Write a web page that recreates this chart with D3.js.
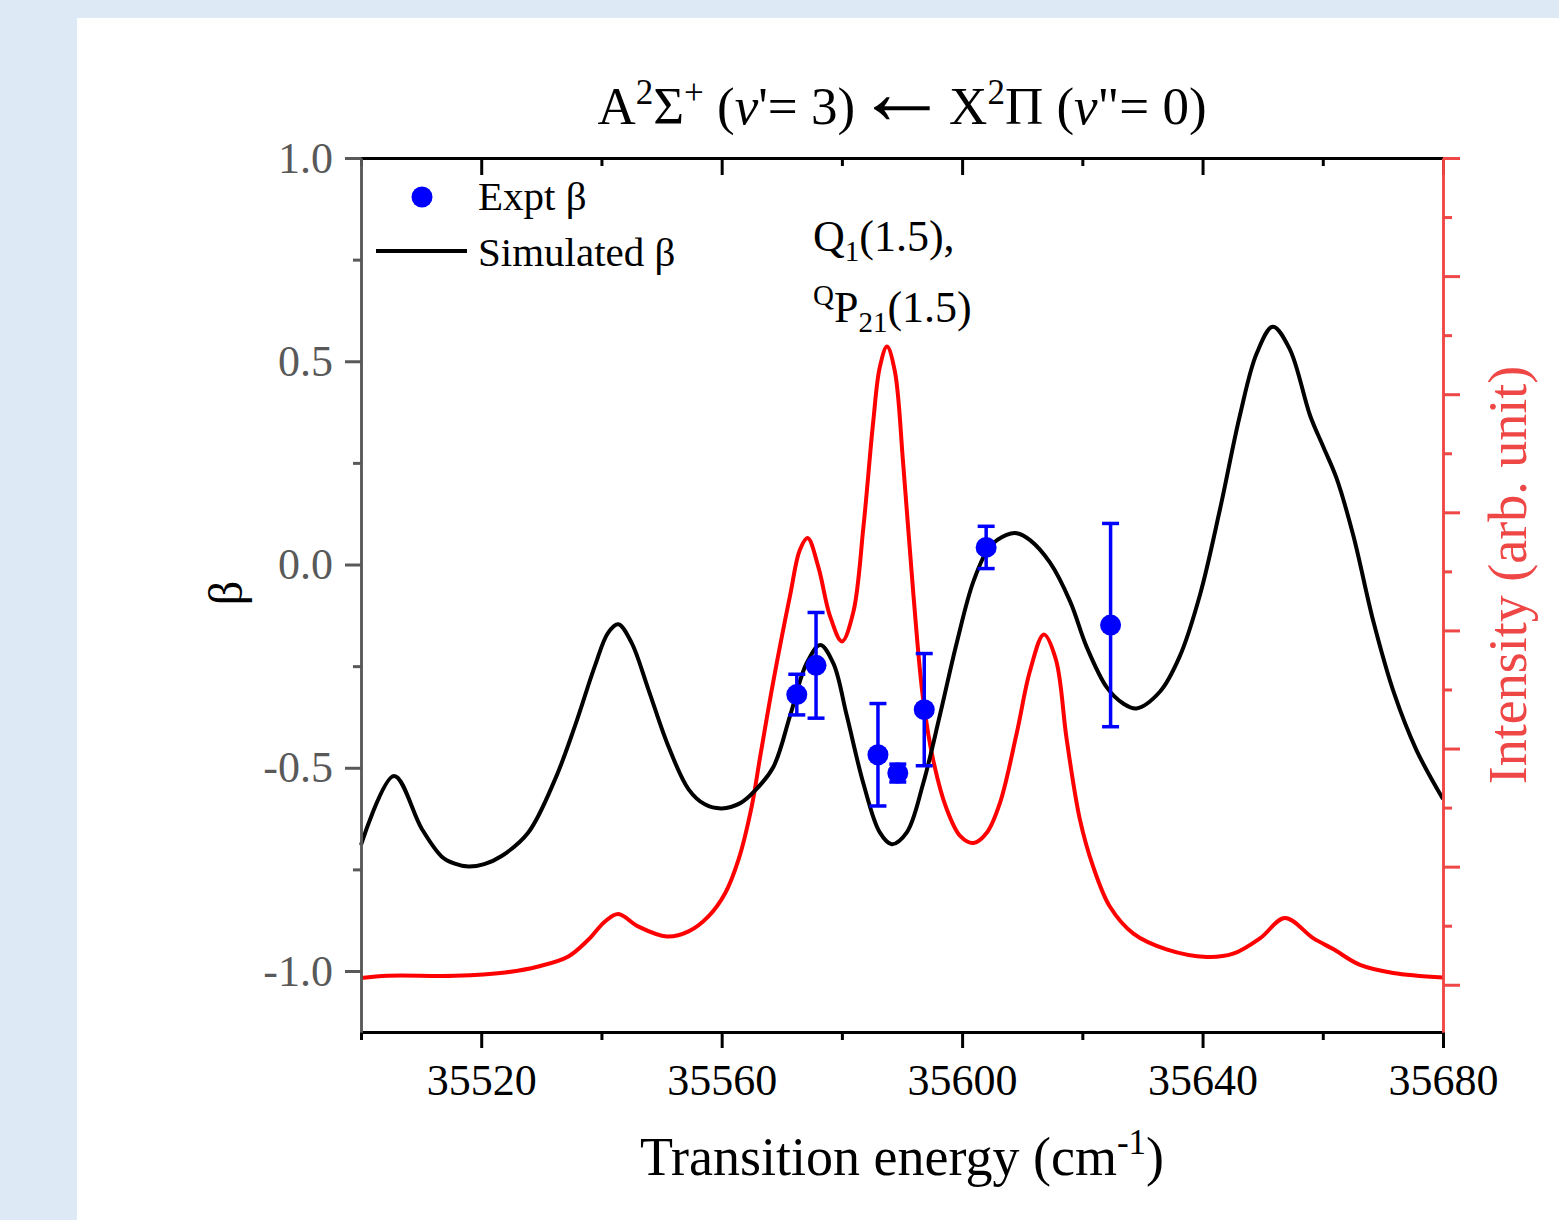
<!DOCTYPE html>
<html>
<head>
<meta charset="utf-8">
<script src="https://cdn.jsdelivr.net/npm/d3@7"></script>
<style>
  html, body { margin: 0; padding: 0; background: #dde9f5; }
  svg { display: block; }
  text { font-family: "Liberation Serif", "Times New Roman", serif; }
</style>
</head>
<body>
<svg id="chart" width="1559" height="1220"></svg>
<script>
// Simulated beta curve (black)
const simEnergy = [35500, 35505.5, 35510.1, 35513.4, 35515.6, 35517.9, 35520.5, 35523.4, 35527.8, 35532.3, 35535.6, 35538.9,
  35541.1, 35542.8, 35545.0, 35547.8, 35551.1, 35554.5, 35557.2, 35560.0, 35563.1, 35565.5,
  35568.6, 35571.4, 35574.1, 35576.4, 35578.6, 35580.8, 35583.6, 35586.3, 35588.3, 35590.8,
  35593.5, 35596.3, 35599.1, 35601.9, 35604.6, 35607.4, 35609.1, 35611.3, 35614.6, 35618.0,
  35620.7, 35624.1, 35626.8, 35629.0, 35632.9, 35636.2, 35639.6, 35642.9, 35646.2, 35649.0,
  35651.7, 35654.5, 35657.9, 35660.1, 35662.3, 35665.1, 35668.4, 35671.8, 35675.6, 35680];
const simBeta = [-0.69, -0.52, -0.65, -0.718, -0.736, -0.743, -0.737, -0.717, -0.66, -0.528, -0.397, -0.25,
  -0.168, -0.147, -0.192, -0.307, -0.446, -0.553, -0.59, -0.600, -0.587, -0.557,
  -0.498, -0.371, -0.244, -0.198, -0.244, -0.371, -0.540, -0.659, -0.688, -0.659,
  -0.540, -0.371, -0.193, -0.041, 0.0435, 0.073, 0.077, 0.060, 0.005, -0.092,
  -0.202, -0.303, -0.342, -0.354, -0.313, -0.226, -0.073, 0.136, 0.366, 0.519,
  0.585, 0.530, 0.366, 0.289, 0.212, 0.070, -0.139, -0.314, -0.457, -0.577];

// Simulated spectrum intensity (red, arbitrary units)
const specEnergy = [35500, 35504.5, 35515.6, 35524.0, 35529.5, 35534.5, 35537.8, 35540.6, 35542.8, 35546.1,
  35550.9, 35554.5, 35557.8, 35560.6, 35562.8, 35565.0, 35566.4, 35568.6, 35571.4, 35573.0,
  35574.3, 35576.1, 35578.0, 35580.0, 35581.9, 35583.6, 35585.2, 35586.3, 35587.5, 35588.8,
  35590.2, 35591.9, 35593.5, 35595.2, 35597.4, 35599.7, 35601.9, 35604.1, 35606.3, 35609.1,
  35611.3, 35613.6, 35615.6, 35617.4, 35619.6, 35621.8, 35624.6, 35628.5, 35634.0, 35640.7,
  35645.1, 35649.6, 35653.7, 35658.4, 35661.8, 35666.2, 35671.7, 35680];
const specIntensity = [0.057, 0.076, 0.076, 0.104, 0.155, 0.240, 0.381, 0.536, 0.599, 0.494,
  0.409, 0.452, 0.579, 0.777, 1.059, 1.511, 1.930, 2.571, 3.301, 3.681,
  3.782, 3.534, 3.126, 2.907, 3.155, 3.885, 4.760, 5.227, 5.403, 5.197,
  4.410, 3.301, 2.425, 1.900, 1.492, 1.258, 1.200, 1.287, 1.540, 2.134,
  2.659, 2.966, 2.754, 2.076, 1.398, 1.000, 0.660, 0.433, 0.300, 0.236,
  0.263, 0.395, 0.565, 0.395, 0.300, 0.168, 0.100, 0.062];

// Experimental beta with error bars
const exptEnergy = [35572.5, 35575.7, 35586.0, 35589.3, 35593.7, 35604.0, 35624.7];
const exptBeta = [-0.320, -0.248, -0.468, -0.513, -0.357, 0.042, -0.149];
const exptErr = [0.050, 0.130, 0.126, 0.022, 0.138, 0.052, 0.250];

// Ticks
const xMajorTicks = [35520, 35560, 35600, 35640, 35680];
const xMinorTicks = [35500, 35540, 35580, 35620, 35660];
const yMajorTicks = [-1.0, -0.5, 0.0, 0.5, 1.0];
const yMinorTicks = [-0.75, -0.25, 0.25, 0.75];
const rMajorTicks = [0, 1, 2, 3, 4, 5, 6, 7];
const rMinorTicks = [0.5, 1.5, 2.5, 3.5, 4.5, 5.5, 6.5];

const svg = d3.select('#chart');
const plot = { left: 361, right: 1443, top: 158, bottom: 1032 };
const grey = '#595959';
const axisRed = '#ef4646';

// white panel
svg.append('rect')
  .attr('x', 77).attr('y', 18)
  .attr('width', 1559 - 77).attr('height', 1220 - 18)
  .attr('fill', '#fff');

const x = d3.scaleLinear().domain([35500, 35680]).range([plot.left, plot.right]);
const y = d3.scaleLinear().domain([-1.15, 1.0]).range([plot.bottom, plot.top]);
const yR = d3.scaleLinear().domain([-0.4, 7.0]).range([plot.bottom, plot.top]);

function styleAxis(g, color, width) {
  g.select('.domain').attr('stroke', color).attr('stroke-width', width);
  g.selectAll('.tick line').attr('stroke', color).attr('stroke-width', 3);
  g.selectAll('.tick text')
    .attr('fill', color)
    .style('font-family', '"Liberation Serif", serif')
    .style('font-size', '44px');
}

// curves first so that axes sit on top
const simLine = d3.line()
  .x((d, i) => x(simEnergy[i]))
  .y((d) => y(d))
  .curve(d3.curveCatmullRom.alpha(0.5));

const specLine = d3.line()
  .x((d, i) => x(specEnergy[i]))
  .y((d) => yR(d))
  .curve(d3.curveCatmullRom.alpha(0.5));

svg.append('path')
  .datum(specIntensity)
  .attr('d', specLine)
  .attr('fill', 'none')
  .attr('stroke', '#ff0000')
  .attr('stroke-width', 4);

svg.append('path')
  .datum(simBeta)
  .attr('d', simLine)
  .attr('fill', 'none')
  .attr('stroke', '#000')
  .attr('stroke-width', 4);

// experimental points
const expt = exptEnergy.map((e, i) => ({ e, b: exptBeta[i], err: exptErr[i] }));
const eb = svg.append('g').attr('stroke', '#0000ff').attr('stroke-width', 3.5);
const capW = 8.5;
for (const d of expt) {
  eb.append('line')
    .attr('x1', x(d.e)).attr('x2', x(d.e))
    .attr('y1', y(d.b - d.err)).attr('y2', y(d.b + d.err));
  eb.append('line')
    .attr('x1', x(d.e) - capW).attr('x2', x(d.e) + capW)
    .attr('y1', y(d.b - d.err)).attr('y2', y(d.b - d.err));
  eb.append('line')
    .attr('x1', x(d.e) - capW).attr('x2', x(d.e) + capW)
    .attr('y1', y(d.b + d.err)).attr('y2', y(d.b + d.err));
}
svg.append('g')
  .selectAll('circle')
  .data(expt)
  .join('circle')
  .attr('cx', (d) => x(d.e))
  .attr('cy', (d) => y(d.b))
  .attr('r', 10.5)
  .attr('fill', '#0000ff');

// Axes
const bottomMinor = svg.append('g')
  .attr('transform', `translate(0,${plot.bottom})`)
  .call(d3.axisBottom(x).tickValues(xMinorTicks).tickSize(8).tickSizeOuter(0).tickFormat(''));
styleAxis(bottomMinor, '#000', 3);
const bottom = svg.append('g')
  .attr('transform', `translate(0,${plot.bottom})`)
  .call(d3.axisBottom(x).tickValues(xMajorTicks).tickSize(16).tickSizeOuter(0).tickPadding(16)
    .tickFormat((d) => String(d)));
styleAxis(bottom, '#000', 3);

const topMinor = svg.append('g')
  .attr('transform', `translate(0,${plot.top})`)
  .call(d3.axisTop(x).tickValues(xMinorTicks).tickSize(-8).tickSizeOuter(0).tickFormat(''));
styleAxis(topMinor, '#000', 3);
const topMajor = svg.append('g')
  .attr('transform', `translate(0,${plot.top})`)
  .call(d3.axisTop(x).tickValues(xMajorTicks).tickSize(-17).tickSizeOuter(0).tickFormat(''));
styleAxis(topMajor, '#000', 3);

const leftMinor = svg.append('g')
  .attr('transform', `translate(${plot.left},0)`)
  .call(d3.axisLeft(y).tickValues(yMinorTicks).tickSize(8).tickSizeOuter(0).tickFormat(''));
styleAxis(leftMinor, grey, 2.5);
const left = svg.append('g')
  .attr('transform', `translate(${plot.left},0)`)
  .call(d3.axisLeft(y).tickValues(yMajorTicks).tickSize(16).tickSizeOuter(0).tickPadding(12)
    .tickFormat((d) => d.toFixed(1)));
styleAxis(left, grey, 2.5);

const rightMinor = svg.append('g')
  .attr('transform', `translate(${plot.right},0)`)
  .call(d3.axisRight(yR).tickValues(rMinorTicks).tickSize(9).tickSizeOuter(0).tickFormat(''));
styleAxis(rightMinor, axisRed, 2.5);
const right = svg.append('g')
  .attr('transform', `translate(${plot.right},0)`)
  .call(d3.axisRight(yR).tickValues(rMajorTicks).tickSize(17).tickSizeOuter(0).tickFormat(''));
styleAxis(right, axisRed, 2.5);

// Title
const title = svg.append('text')
  .attr('x', (plot.left + plot.right) / 2)
  .attr('y', 124)
  .attr('text-anchor', 'middle')
  .attr('font-size', 53)
  .attr('fill', '#000');
title.append('tspan').text('A');
title.append('tspan').attr('font-size', 35).attr('dy', -20).text('2');
title.append('tspan').attr('dy', 20).text('Σ');
title.append('tspan').attr('font-size', 35).attr('dy', -20).text('+');
title.append('tspan').attr('dy', 20).text(' (');
title.append('tspan').attr('font-style', 'italic').text('v');
title.append('tspan').text('\'= 3)');
title.append('tspan')
  .attr('font-size', 94)
  .text('←');
title.append('tspan').text('X');
title.append('tspan').attr('font-size', 35).attr('dy', -20).text('2');
title.append('tspan').attr('dy', 20).text('Π (');
title.append('tspan').attr('font-style', 'italic').text('v');
title.append('tspan').text('"= 0)');

// Axis titles
const xTitle = svg.append('text')
  .attr('x', (plot.left + plot.right) / 2)
  .attr('y', 1175)
  .attr('text-anchor', 'middle')
  .attr('font-size', 54)
  .attr('fill', '#000');
xTitle.append('tspan').text('Transition energy (cm');
xTitle.append('tspan').attr('font-size', 35).attr('dy', -21).text('-1');
xTitle.append('tspan').attr('dy', 21).text(')');

svg.append('text')
  .attr('transform', 'translate(242,593) rotate(-90)')
  .attr('text-anchor', 'middle')
  .attr('font-size', 48)
  .attr('fill', '#000')
  .text('β');

svg.append('text')
  .attr('transform', 'translate(1526,575) rotate(-90)')
  .attr('text-anchor', 'middle')
  .attr('font-size', 54)
  .attr('fill', axisRed)
  .text('Intensity (arb. unit)');

// Legend
svg.append('circle')
  .attr('cx', 422).attr('cy', 197).attr('r', 10.5)
  .attr('fill', '#0000ff');
svg.append('line')
  .attr('x1', 376).attr('x2', 467)
  .attr('y1', 251).attr('y2', 251)
  .attr('stroke', '#000').attr('stroke-width', 4);
svg.append('text')
  .attr('x', 478).attr('y', 210)
  .attr('font-size', 41)
  .text('Expt β');
svg.append('text')
  .attr('x', 478).attr('y', 266)
  .attr('font-size', 41)
  .text('Simulated β');

// Line assignment annotation
const ann1 = svg.append('text')
  .attr('x', 813).attr('y', 251)
  .attr('font-size', 44);
ann1.append('tspan').text('Q');
ann1.append('tspan').attr('font-size', 29).attr('dy', 10).text('1');
ann1.append('tspan').attr('dy', -10).text('(1.5),');

const ann2 = svg.append('text')
  .attr('x', 813).attr('y', 322)
  .attr('font-size', 44);
ann2.append('tspan').attr('font-size', 29).attr('dy', -17).text('Q');
ann2.append('tspan').attr('dy', 17).text('P');
ann2.append('tspan').attr('font-size', 29).attr('dy', 10).text('21');
ann2.append('tspan').attr('dy', -10).text('(1.5)');
</script>
</body>
</html>
